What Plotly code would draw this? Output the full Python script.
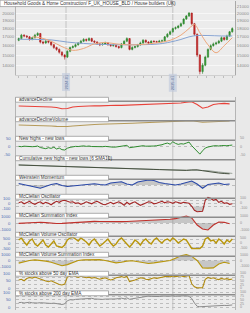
import numpy as np
import plotly.graph_objects as go

W, H = 250, 313
XL, XR = 16, 235  # plot area left/right edge in px

# ---------------- main price chart data ----------------
candle_idx = list(range(80))
opens = [16600, 16800, 17200, 17100, 17000, 16700, 16900, 17200, 17400, 16400,
         16300, 16500, 16400, 16100, 15800, 15600, 15300, 15000, 14800, 15400,
         15800, 15900, 16100, 16300, 16500, 16700, 16600, 16800, 16500, 16400,
         16200, 16100, 16200, 16300, 16100, 16000, 16050, 15900, 15800, 16200,
         16500, 16800, 15600, 15800, 15900, 16100, 16300, 16600, 16400, 16300,
         16500, 16450, 16400, 16500, 16550, 17000, 17300, 17600, 18000, 18100,
         18300, 18600, 19200, 19600, 20000, 18600, 17300, 15000, 13400, 14000,
         14800, 15600, 16000, 16200, 16300, 16500, 16900, 16700, 17100, 17600]
closes = [16800, 17200, 17100, 17000, 16700, 16900, 17200, 17400, 16400, 16300,
          16500, 16400, 16100, 15800, 15600, 15300, 15000, 14800, 15400, 15800,
          15900, 16100, 16300, 16500, 16700, 16600, 16800, 16500, 16400, 16200,
          16100, 16200, 16300, 16100, 16000, 16050, 15900, 15800, 16200, 16500,
          16800, 15600, 15800, 15900, 16100, 16300, 16600, 16400, 16300, 16500,
          16450, 16400, 16500, 16550, 17000, 17300, 17600, 18000, 18100, 18300,
          18600, 19200, 19600, 20000, 18600, 17300, 15000, 13400, 14000, 14800,
          15600, 16000, 16200, 16300, 16500, 16900, 16700, 17100, 17600, 18000]
highs = [16900, 17350, 17300, 17200, 17100, 17000, 17350, 17550, 17450, 16550,
         16650, 16600, 16500, 16200, 15900, 15700, 15400, 15100, 15500, 15900,
         16050, 16250, 16400, 16650, 16850, 16800, 16950, 16900, 16600, 16500,
         16300, 16350, 16450, 16400, 16200, 16150, 16150, 16000, 16300, 16600,
         16950, 16850, 15950, 16000, 16200, 16450, 16750, 16700, 16500, 16600,
         16600, 16550, 16650, 16700, 17100, 17450, 17750, 18100, 18250, 18450,
         18750, 19300, 19750, 20150, 20050, 18700, 17400, 15100, 14200, 14950,
         15700, 16150, 16350, 16450, 16650, 17050, 17000, 17250, 17700, 18150]
lows = [16500, 16700, 16950, 16850, 16550, 16600, 16800, 17100, 16250, 16150,
        16200, 16250, 15950, 15650, 15450, 15150, 14850, 14550, 14700, 15300,
        15700, 15800, 16000, 16200, 16400, 16450, 16500, 16400, 16300, 16100,
        15950, 16000, 16100, 16000, 15900, 15900, 15800, 15650, 15700, 16100,
        16400, 15500, 15500, 15700, 15800, 16000, 16200, 16300, 16150, 16200,
        16350, 16300, 16300, 16400, 16450, 16900, 17200, 17500, 17850, 18000,
        18200, 18500, 19100, 19500, 18400, 17100, 14800, 13150, 13200, 13900,
        14700, 15500, 15900, 16050, 16200, 16400, 16550, 16600, 17000, 17500]

ma_fast_idx = [5, 8, 12, 16, 20, 24, 28, 32, 36, 40, 44, 48, 52, 56, 60, 63, 65, 67, 70, 73, 76, 79]
ma_fast = [17000, 16900, 16500, 15900, 15500, 15700, 16200, 16350, 16200, 16100, 16100,
           16200, 16350, 16600, 17200, 18000, 18500, 17500, 16100, 15250, 16000, 16900]
ma_slow_idx = [0, 6, 12, 18, 24, 30, 38, 45, 52, 56, 60, 63, 66, 70, 75, 79]
ma_slow = [16720, 16700, 16650, 16400, 16250, 16150, 16100, 16100, 16200, 16400,
           16700, 17000, 17150, 17150, 17100, 17100]

price_ticks_right = [13000, 14000, 15000, 16000, 17000, 18000, 19000, 20000, 21000]
price_ticks_left = [13000, 14000, 15000, 16000, 17000, 18000, 19000, 20000]
date_pos = [17.5, 57]
date_labels = ["2024-01", "2025-01"]
main_title = "Household Goods & Home Construction/ F_UK_HOUSE_BLD / House builders (UK)"

# ---------------- indicator data ----------------
x40 = list(range(0, 80, 2))
x80 = list(range(80))

ad_line = [1050, 1040, 1060, 1030, 1000, 980, 950, 900, 780, 800,
           950, 1000, 1040, 1060, 1080, 1060, 1100, 1090, 1120, 1110,
           1130, 1150, 1170, 1200, 1190, 1230, 1250, 1280, 1300, 1320,
           1350, 1420, 1480, 1200, 830, 950, 1200, 1280, 1310, 1260]
adv_line = [1100, 1090, 1100, 1080, 1060, 1040, 1000, 960, 930, 950,
            1000, 1050, 1100, 1130, 1150, 1170, 1200, 1210, 1230, 1250,
            1260, 1280, 1300, 1330, 1340, 1370, 1400, 1430, 1450, 1480,
            1500, 1530, 1540, 1450, 1370, 1400, 1440, 1470, 1490, 1500]
nhnl = [2, 0, 3, 1, -2, 0, 1, 4,
        -5, -8, -12, -6, -10, -3, -14, -8,
        -18, -20, -9, -4, 0, 2, 1, 3,
        5, 2, 4, 1, 0, -2, 1, 0,
        2, -1, 0, -3, -2, 1, 3, 5,
        8, -6, -3, 0, 2, 4, 6, 3,
        2, 5, 4, 6, 8, 12, 18, 22,
        15, 30, 20, 14, 18, 16, 22, 28,
        6, -10, -30, -45, -25, -8, -2, 3,
        5, 6, 4, 7, 5, 6, 8, 10]
cum_nhnl = [1000, 980, 960, 940, 920, 900, 880, 855, 830, 805,
            780, 765, 750, 735, 720, 705, 690, 675, 660, 645,
            630, 615, 600, 585, 570, 555, 540, 520, 500, 485,
            470, 460, 510, 520, 430, 330, 250, 200, 150, 120]
cum_sma_idx = [0, 8, 16, 24, 32, 40, 48, 56, 62, 66, 70, 74, 79]
cum_sma = [1010, 930, 845, 760, 700, 640, 580, 515, 480, 490, 440, 300, 160]
weinstein = [15, 5, -10, -20, -33, -15, 5, 15, -5, -15,
             -10, -8, 0, 8, 12, 5, 0, 20, 25, 33,
             10, 0, 30, 40, 50, 45, 25, 15, 5, 0,
             10, 25, 40, 10, -33, 5, 15, 20, 5, 10]
mcc_osc = [10, 30, -10, 20, 40, 0, -20, 10,
           30, -10, 20, 0, -30, 10, 40, 20,
           50, 60, 40, 20, 30, 0, 10, -20,
           0, 30, 10, -10, 20, 40, 10, -20,
           -30, 0, 20, -10, 10, 30, 0, -40,
           20, -20, 10, 30, -10, -40, -20, 10,
           30, 20, -10, 0, 20, 40, 10, 30,
           20, 0, 30, 10, 0, 20, 10, 0,
           -60, -140, -170, -170, -160, 60, 120, 100,
           60, 80, 20, 40, 0, 10, -20, -10]
mcc_sum = [-50, 0, 100, 150, 120, 50, -30, -80, -60, 0,
           80, 150, 200, 220, 240, 230, 200, 180, 160, 200,
           230, 260, 300, 330, 370, 400, 440, 500, 560, 650,
           800, 1050, 750, -300, -900, -1050, -300, 150, 100, -100]
vol_osc = [300, 500, 100, -200, 200, 400, -100, -300,
           0, 300, -200, -400, -100, 200, -300, -400,
           -450, -200, 300, 500, 600, 400, 200, 500,
           300, 100, -200, 200, 400, 100, -300, -100,
           200, 400, 0, -300, -100, 300, 500, 200,
           -200, -400, -100, 300, 100, -200, 200, 400,
           100, -100, 300, 500, 200, 0, 300, 400,
           200, 500, 300, 0, 200, 400, 300, -100,
           -550, -560, -560, -550, -300, 400, 550, 200,
           300, 0, 400, 200, -100, 300, 100, 400]
vol_sum = [-450, -200, 0, 100, 50, -100, -300, -600, -900, -700,
           -300, 0, 100, 150, 200, 150, 0, -200, -400, -300,
           -100, -50, -200, -400, -500, -400, -300, -200, 0, 400,
           800, 1000, 700, 0, -1250, -1300, -1250, -600, -300, -500]
pct50 = [55, 60, 50, 65, 72, 68, 75, 70,
         60, 55, 48, 44, 50, 40, 30, 25,
         22, 28, 75, 82, 85, 78, 72, 80,
         76, 70, 74, 68, 72, 65, 60, 66,
         70, 62, 55, 60, 70, 74, 78, 72,
         80, 45, 48, 55, 62, 70, 68, 60,
         58, 65, 70, 66, 72, 74, 78, 80,
         76, 82, 78, 80, 84, 78, 82, 85,
         30, 10, 3, 2, 4, 60, 72, 65,
         70, 62, 58, 66, 60, 64, 58, 62]
pct200 = [32, 34, 30, 33, 35, 31, 28, 30,
          32, 30, 28, 30, 27, 29, 25, 22,
          20, 24, 45, 52, 50, 54, 55, 58,
          60, 62, 58, 61, 57, 55, 58, 54,
          56, 55, 58, 54, 57, 60, 62, 58,
          64, 55, 58, 62, 66, 70, 72, 74,
          76, 74, 72, 75, 73, 76, 74, 72,
          75, 78, 74, 76, 77, 75, 78, 74,
          60, 30, 8, 5, 6, 10, 12, 10,
          12, 11, 13, 12, 14, 13, 15, 17]

pct_labels_left = [(100, "100"), (50, "50"), (0, "0")]
pct_labels_right = [(100, "100"), (75, "75"), (50, "50"), (25, "25"), (0, "0")]

FONT = "Liberation Sans, Arial, sans-serif"
GRAYFILL = "rgba(130,130,130,0.35)"


def yp(p):
    return 1 - p / H


def xp(p):
    return p / W


panels = [
    dict(title="advanceDecline", top=97, bot=116.5, rng=[0, 1950],
         series=[(x40, ad_line, "#e8423a", 1.1)], grid=[], labels=[]),
    dict(title="advanceDeclineVolume", top=116.5, bot=136, rng=[0, 1950],
         series=[(x40, adv_line, "#b59a5a", 1.1)], grid=[], labels=[]),
    dict(title="New highs - new lows", top=136, bot=155.5, rng=[-53.3, 64.8],
         series=[(x80, nhnl, "#2e8b2e", 1.0)], grid=[0],
         labels=[(50, "50"), (0, "0"), (-50, "-50")]),
    dict(title="Cumulative new highs - new lows (6 SMA10)", top=155.5, bot=175, rng=[0, 1950],
         series=[(cum_sma_idx, cum_sma, "#9aa39a", 1.0), (x40, cum_nhnl, "#46503f", 1.0)],
         grid=[], labels=[]),
    dict(title="Weinstein Momentum", top=175, bot=194, rng=[-90, 100],
         series=[(x40, weinstein, "#2a48a8", 1.1)], grid=[0], fill="zero", labels=[]),
    dict(title="McClellan Oscillator", top=194, bot=213, rng=[-194, 186],
         series=[(x80, mcc_osc, "#a52525", 1.1)], grid=[-65, 0, 65], thr=65,
         labels=[(100, "100"), (0, "0"), (-100, "-100")]),
    dict(title="McClellan Summation Index", top=213, bot=232, rng=[-1350, 1500],
         series=[(x40, mcc_sum, "#c0302a", 1.1)], grid=[0], fill="zero",
         labels=[(1000, "1000"), (0, "0"), (-1000, "-1000")]),
    dict(title="McClellan Volume Oscillator", top=232, bot=252, rng=[-900, 1100],
         series=[(x80, vol_osc, "#b8960c", 1.4)], grid=[-400, 0, 400], thr=400,
         labels=[(500, "500"), (0, "0"), (-500, "-500")]),
    dict(title="McClellan Volume Summation Index", top=252, bot=271, rng=[-1785, 1445],
         series=[(x40, vol_sum, "#b8960c", 1.1)], grid=[0], fill="zero",
         labels=[(1000, "1000"), (0, "0"), (-1000, "-1000")]),
    dict(title="% stocks above 50 day EMA", top=271, bot=290.5, rng=[-14.7, 115.3],
         series=[(x80, pct50, "#b08a10", 1.1)], grid=[0, 25, 50, 75, 100],
         labels=pct_labels_left, rlabels=pct_labels_right),
    dict(title="% stocks above 200 day EMA", top=290.5, bot=310, rng=[-16.7, 113.3],
         series=[(x80, pct200, "#8c8c8c", 1.0)], grid=[0, 25, 50, 75, 100],
         labels=pct_labels_left, rlabels=pct_labels_right),
]

fig = go.Figure()

# main chart
fig.add_trace(go.Candlestick(
    x=candle_idx, open=opens, high=highs, low=lows, close=closes,
    increasing=dict(line=dict(color="#2a7f2a", width=0.6), fillcolor="#35a035"),
    decreasing=dict(line=dict(color="#a81c1c", width=0.6), fillcolor="#cc2a2a"),
    whiskerwidth=0, xaxis="x", yaxis="y", hoverinfo="skip", showlegend=False))
fig.add_trace(go.Scatter(x=ma_slow_idx, y=ma_slow, mode="lines", line=dict(color="#86a3d2", width=1, shape="spline"),
                         xaxis="x", yaxis="y", hoverinfo="skip", showlegend=False))
fig.add_trace(go.Scatter(x=ma_fast_idx, y=ma_fast, mode="lines", line=dict(color="#eda77c", width=1, shape="spline"),
                         xaxis="x", yaxis="y", hoverinfo="skip", showlegend=False))
fig.add_trace(go.Scatter(x=candle_idx, y=closes, mode="lines", line=dict(width=0), opacity=0,
                         xaxis="x", yaxis="y2", hoverinfo="skip", showlegend=False))

main_top, main_bot = 1, 75
log_lo = np.log10(13000) + (76 - main_bot) / 336.1
log_hi = np.log10(21000) + (6 - main_top) / 336.1

axis_common = dict(fixedrange=True, automargin=False)
layout = dict(
    width=W, height=H, margin=dict(l=0, r=0, t=0, b=0),
    paper_bgcolor="#e9e9e9", plot_bgcolor="#ececec",
    showlegend=False, template="none",
    font=dict(family=FONT, size=5, color="#555"),
    xaxis=dict(domain=[xp(XL), xp(XR)], range=[-1, 80], anchor="y", showgrid=False, zeroline=False,
               showticklabels=False, ticks="outside", ticklen=2, tickcolor="#bdbdbd", dtick=3.3,
               tick0=0, showline=True, linecolor="#d0d0d0", rangeslider=dict(visible=False), **axis_common),
    yaxis=dict(domain=[yp(main_bot), yp(main_top)], type="log", range=[log_lo, log_hi], anchor="x",
               tickvals=price_ticks_left, ticktext=[str(v) for v in price_ticks_left], side="left",
               tickfont=dict(size=4.3, color="#8a8a8a"), ticks="", showgrid=True, gridcolor="#f7f7f7",
               gridwidth=0.8, zeroline=False, showline=True, linecolor="#b5b5b5", **axis_common),
    yaxis2=dict(overlaying="y", type="log", range=[log_lo, log_hi], anchor="x", side="right",
                tickvals=price_ticks_right, ticktext=[str(v) for v in price_ticks_right],
                tickfont=dict(size=4.3, color="#8a8a8a"), ticks="", showgrid=False, zeroline=False,
                showline=True, linecolor="#a8a8a8", **axis_common),
)

shapes = []
annotations = []

for k, p in enumerate(panels):
    n = k + 3
    ya = f"y{n}"
    layout[f"yaxis{n}"] = dict(domain=[yp(p["bot"]), yp(p["top"])], range=p["rng"], anchor="x",
                               showticklabels=False, ticks="", tickvals=p["grid"] if p["grid"] else None,
                               showgrid=bool(p["grid"]), gridcolor="#bdbdbd", griddash="dot", gridwidth=0.7,
                               zeroline=False, showline=True, mirror=True, linecolor="#b5b5b5",
                               linewidth=1, **axis_common)
    main_x, main_y, col, wid = p["series"][-1]
    if p.get("fill") == "zero":
        fig.add_trace(go.Scatter(x=main_x, y=main_y, mode="lines", line=dict(width=0), fill="tozeroy",
                                 fillcolor=GRAYFILL, xaxis="x", yaxis=ya, hoverinfo="skip"))
    if "thr" in p:
        t = p["thr"]
        arr = np.array(main_y, dtype=float)
        fig.add_trace(go.Scatter(x=main_x, y=[-t] * len(main_x), mode="lines", line=dict(width=0),
                                 xaxis="x", yaxis=ya, hoverinfo="skip"))
        fig.add_trace(go.Scatter(x=main_x, y=np.minimum(arr, -t), mode="lines", line=dict(width=0),
                                 fill="tonexty", fillcolor=GRAYFILL, xaxis="x", yaxis=ya, hoverinfo="skip"))
        fig.add_trace(go.Scatter(x=main_x, y=[t] * len(main_x), mode="lines", line=dict(width=0),
                                 xaxis="x", yaxis=ya, hoverinfo="skip"))
        fig.add_trace(go.Scatter(x=main_x, y=np.maximum(arr, t), mode="lines", line=dict(width=0),
                                 fill="tonexty", fillcolor=GRAYFILL, xaxis="x", yaxis=ya, hoverinfo="skip"))
    for sx, sy, c, w in p["series"]:
        fig.add_trace(go.Scatter(x=sx, y=sy, mode="lines", line=dict(color=c, width=w),
                                 xaxis="x", yaxis=ya, hoverinfo="skip"))
    # header: separator bar and title box
    top = p["top"]
    shapes.append(dict(type="line", xref="paper", yref="paper", x0=xp(108), x1=xp(XR),
                       y0=yp(top + 4.3), y1=yp(top + 4.3), line=dict(color="#8c8c8c", width=1.6)))
    shapes.append(dict(type="rect", xref="paper", yref="paper", x0=xp(15.5), x1=xp(108.5),
                       y0=yp(top + 5.2), y1=yp(top + 0.3), fillcolor="white",
                       line=dict(color="#9a9a9a", width=0.8)))
    annotations.append(dict(text=p["title"], xref="paper", yref="paper", x=xp(17), y=yp(top + 2.8),
                            xanchor="left", yanchor="middle", showarrow=False,
                            font=dict(size=4.7, color="#333", family=FONT)))
    for val, txt in p["labels"]:
        annotations.append(dict(text=txt, xref="paper", yref=ya, x=xp(13), y=val, xanchor="right",
                                yanchor="middle", showarrow=False,
                                font=dict(size=4.2, color="#4d6db3", family=FONT)))
    for val, txt in p.get("rlabels", p["labels"]):
        annotations.append(dict(text=txt, xref="paper", yref=ya, x=xp(237.5), y=val, xanchor="left",
                                yanchor="middle", showarrow=False,
                                font=dict(size=3.6, color="#8f8f8f", family=FONT)))

# vertical date gridlines through all panels
for dpos in date_pos:
    shapes.append(dict(type="line", xref="x", yref="paper", x0=dpos, x1=dpos, y0=yp(310), y1=yp(1),
                       line=dict(color="#c4c4c4", width=1), layer="below"))
for dpos, dl in zip(date_pos, date_labels):
    annotations.append(dict(text=dl, xref="x", yref="paper", x=dpos, y=yp(82.5), textangle=-90,
                            showarrow=False, xanchor="center", yanchor="middle",
                            bgcolor="rgba(190,200,220,0.6)",
                            font=dict(size=4.0, color="#5a70a0", family=FONT)))

# main title box
shapes.append(dict(type="rect", xref="paper", yref="paper", x0=0, x1=xp(172), y0=yp(6.6), y1=yp(0.2),
                   fillcolor="white", line=dict(color="#9a9a9a", width=0.8)))
annotations.append(dict(text=main_title, xref="paper", yref="paper", x=xp(1.5), y=yp(3.4),
                        xanchor="left", yanchor="middle", showarrow=False,
                        font=dict(size=4.6, color="#333", family=FONT)))

layout["shapes"] = shapes
layout["annotations"] = annotations
fig.update_layout(**layout)
fig.update_traces(showlegend=False)

fig.write_html("out.html", config={"displayModeBar": False})
